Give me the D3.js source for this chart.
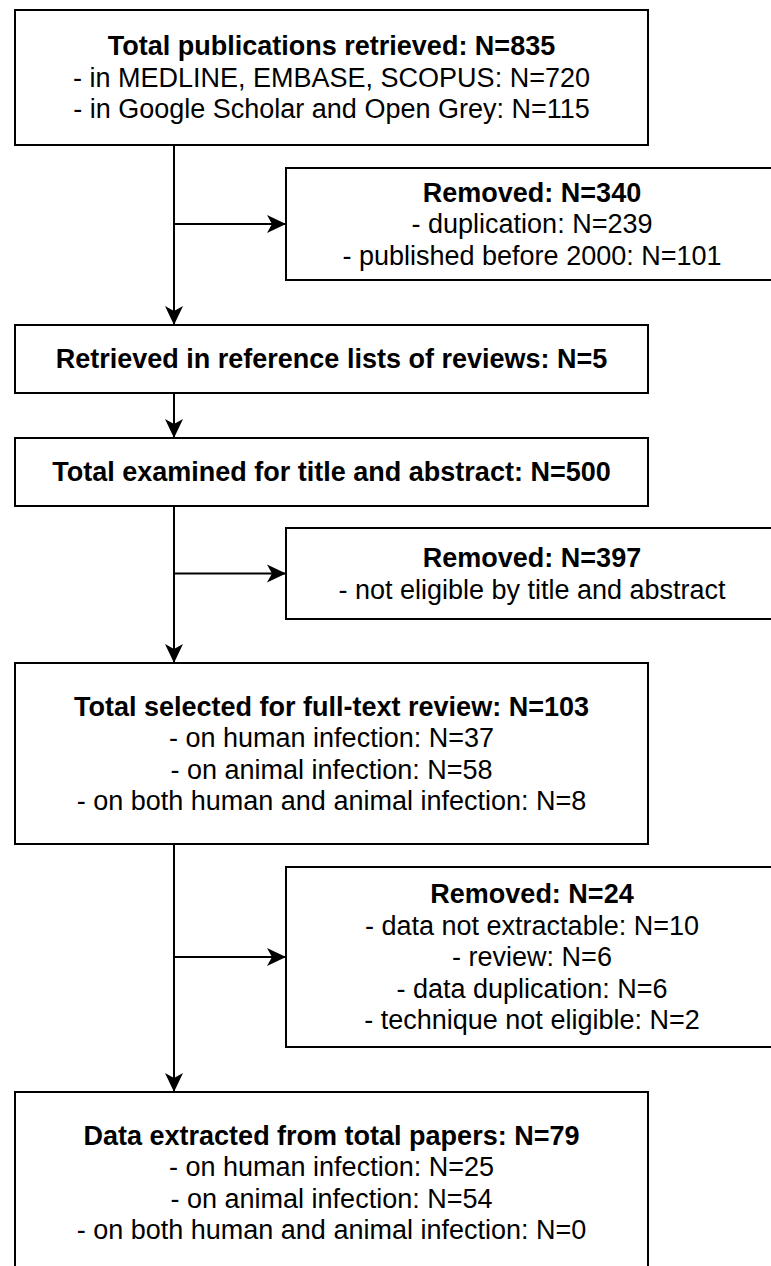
<!DOCTYPE html>
<html>
<head>
<meta charset="utf-8">
<script src="https://cdn.jsdelivr.net/npm/d3@7"></script>
<style>
  body { margin: 0; background: #fff; }
  svg { display: block; }
  text { font-family: "Liberation Sans", Arial, Helvetica, sans-serif; font-size: 27px; fill: #000; }
  text.head { font-weight: bold; }
</style>
</head>
<body>
<div id="chart"></div>
<script>
// boxes on the main path, top to bottom
var mainTitles = [
    "Total publications retrieved: N=835",
    "Retrieved in reference lists of reviews: N=5",
    "Total examined for title and abstract: N=500",
    "Total selected for full-text review: N=103",
    "Data extracted from total papers: N=79"
];
var mainLines = [
    ["- in MEDLINE, EMBASE, SCOPUS: N=720", "- in Google Scholar and Open Grey: N=115"],
    [],
    [],
    ["- on human infection: N=37", "- on animal infection: N=58", "- on both human and animal infection: N=8"],
    ["- on human infection: N=25", "- on animal infection: N=54", "- on both human and animal infection: N=0"]
];

// side boxes (exclusions), each one hangs off the arrow below main box removedAfter[i]
var removedTitles = ["Removed: N=340", "Removed: N=397", "Removed: N=24"];
var removedLines = [
    ["- duplication: N=239", "- published before 2000: N=101"],
    ["- not eligible by title and abstract"],
    ["- data not extractable: N=10", "- review: N=6", "- data duplication: N=6", "- technique not eligible: N=2"]
];
var removedAfter = [0, 2, 3];

// layout (pixels)
var width = 771, height = 1266;
var lineH = 31.5;
var spineX = 174;
var mainX = [15, 648];
var sideX = [286, 778];
var mainTops = [10, 325, 438, 663, 1092];
var mainBottoms = [145, 393, 506, 844, 1273];
var sideTops = [168, 528, 867];
var sideBottoms = [280, 619, 1047];

var svg = d3.select("#chart").append("svg")
    .attr("width", width)
    .attr("height", height);

// arrow head like the draw.io "classic" one
svg.append("defs").append("marker")
    .attr("id", "arrow")
    .attr("viewBox", "0 -10 20 20")
    .attr("refX", 19)
    .attr("refY", 0)
    .attr("markerWidth", 20)
    .attr("markerHeight", 20)
    .attr("markerUnits", "userSpaceOnUse")
    .attr("orient", "auto")
    .append("path")
    .attr("d", "M0,-9L19,0L0,9L5,0Z")
    .attr("fill", "#000");

function drawBox(x0, x1, y0, y1, title, lines) {
    var g = svg.append("g");
    g.append("rect")
        .attr("x", x0)
        .attr("y", y0)
        .attr("width", x1 - x0)
        .attr("height", y1 - y0)
        .attr("fill", "#fff")
        .attr("stroke", "#000")
        .attr("stroke-width", 2);

    var all = [title].concat(lines);
    var cx = (x0 + x1) / 2, cy = (y0 + y1) / 2;
    var n = all.length;
    g.selectAll("text")
        .data(all)
        .enter()
        .append("text")
        .attr("class", function(d, i) { return i === 0 ? "head" : "item"; })
        .attr("x", cx)
        .attr("y", function(d, i) { return cy + (i - (n - 1) / 2) * lineH; })
        .attr("dy", "0.35em")
        .attr("text-anchor", "middle")
        .text(function(d) { return d; });
}

// connectors first so boxes sit on top
for (var i = 0; i < mainTitles.length - 1; i++) {
    svg.append("line")
        .attr("x1", spineX).attr("x2", spineX)
        .attr("y1", mainBottoms[i]).attr("y2", mainTops[i + 1])
        .attr("stroke", "#000")
        .attr("stroke-width", 2)
        .attr("marker-end", "url(#arrow)");
}

removedTitles.forEach(function(t, j) {
    var cy = (sideTops[j] + sideBottoms[j]) / 2;
    svg.append("line")
        .attr("x1", spineX).attr("x2", sideX[0])
        .attr("y1", cy).attr("y2", cy)
        .attr("stroke", "#000")
        .attr("stroke-width", 2)
        .attr("marker-end", "url(#arrow)");
});

mainTitles.forEach(function(t, i) {
    drawBox(mainX[0], mainX[1], mainTops[i], mainBottoms[i], t, mainLines[i]);
});

removedTitles.forEach(function(t, j) {
    drawBox(sideX[0], sideX[1], sideTops[j], sideBottoms[j], t, removedLines[j]);
});
</script>
</body>
</html>
